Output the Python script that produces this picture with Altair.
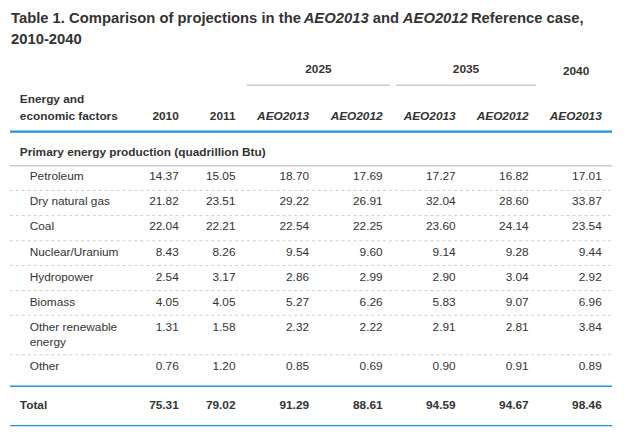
import altair as alt
import pandas as pd

# ---------------- data ----------------
categories = ["Petroleum", "Dry natural gas", "Coal", "Nuclear/Uranium",
              "Hydropower", "Biomass", "Other renewable\nenergy", "Other"]
v2010 = [14.37, 21.82, 22.04, 8.43, 2.54, 4.05, 1.31, 0.76]
v2011 = [15.05, 23.51, 22.21, 8.26, 3.17, 4.05, 1.58, 1.20]
aeo2013_2025 = [18.70, 29.22, 22.54, 9.54, 2.86, 5.27, 2.32, 0.85]
aeo2012_2025 = [17.69, 26.91, 22.25, 9.60, 2.99, 6.26, 2.22, 0.69]
aeo2013_2035 = [17.27, 32.04, 23.60, 9.14, 2.90, 5.83, 2.91, 0.90]
aeo2012_2035 = [16.82, 28.60, 24.14, 9.28, 3.04, 9.07, 2.81, 0.91]
aeo2013_2040 = [17.01, 33.87, 23.54, 9.44, 2.92, 6.96, 3.84, 0.89]
totals = [75.31, 79.02, 91.29, 88.61, 94.59, 94.67, 98.46]
col_headers = ["2010", "2011", "AEO2013", "AEO2012", "AEO2013", "AEO2012", "AEO2013"]
group_headers = ["2025", "2035", "2040"]
stub_header = ["Energy and", "economic factors"]
section_title = "Primary energy production (quadrillion Btu)"
total_label = "Total"
title_line1 = [("Table 1. Comparison of projections in the", "normal"),
               ("AEO2013", "italic"), ("and", "normal"),
               ("AEO2012", "italic"), ("Reference case,", "normal")]
title_line2 = "2010-2040"

# ---------------- layout (pixels, chart coordinates) ----------------
W, H = 619, 428
FONT = "Liberation Sans"
TXT = "#333333"
BLUE = "#1b9ad6"
GREY = "#cccccc"
col_right = [173, 230.5, 305, 379.5, 453.5, 527.5, 601.5]
row_y = [167.5, 193, 218.5, 244, 269.5, 295, 320.5, 359.5]
line_gap = 15
total_y = 399.5
label_x_indent = 22
label_x = 12
head_y = [89, 106.5]
group_x = [314.5, 464, 575.5]
group_y = [59.5, 59, 61]
group_line = [(242, 387), (393, 535)]
group_line_y = 75.5
section_y = 143.5
title_x = [3, 299.5, 369.5, 400, 469]
title_y = [7.5, 29]
left_edge, right_edge = 2, 612
blue_lines = [122.5, 380.3, 420.3]
blue_widths = [2.2, 1.5, 1.5]
grey_line_y = 157
dash_lines = [182, 207.5, 233, 258, 283.5, 308.5, 348.5]

XS = alt.Scale(domain=[0, W], range=[0, W], nice=False, zero=False)
YS = alt.Scale(domain=[0, H], range=[0, H], nice=False, zero=False)


def X(f="x"):
    return alt.X(f"{f}:Q", scale=XS, axis=None)


def Y(f="y"):
    return alt.Y(f"{f}:Q", scale=YS, axis=None)


def text_layer(df, align="left", weight="normal", style="normal", size=12, color=TXT):
    return alt.Chart(df).mark_text(
        align=align, baseline="middle", font=FONT, fontSize=size,
        fontWeight=weight, fontStyle=style, color=color
    ).encode(x=X(), y=Y(), text="t:N")


# body numbers
series = [v2010, v2011, aeo2013_2025, aeo2012_2025, aeo2013_2035, aeo2012_2035, aeo2013_2040]
cells = []
for ci, vals in enumerate(series):
    for ri, v in enumerate(vals):
        cells.append({"x": col_right[ci], "y": row_y[ri], "t": f"{v:.2f}"})
cells_df = pd.DataFrame(cells)

# row labels (split multi-line names)
labels = []
for ri, name in enumerate(categories):
    for li, part in enumerate(name.split("\n")):
        labels.append({"x": label_x_indent, "y": row_y[ri] + li * line_gap, "t": part})
labels_df = pd.DataFrame(labels)

tot_df = pd.DataFrame([{"x": col_right[i], "y": total_y, "t": f"{v:.2f}"} for i, v in enumerate(totals)])
tot_label_df = pd.DataFrame([{"x": label_x, "y": total_y, "t": total_label}])

hdr_plain = pd.DataFrame([{"x": col_right[i], "y": head_y[1], "t": h}
                          for i, h in enumerate(col_headers) if not h.startswith("AEO")])
hdr_ital = pd.DataFrame([{"x": col_right[i], "y": head_y[1], "t": h}
                         for i, h in enumerate(col_headers) if h.startswith("AEO")])
stub_df = pd.DataFrame([{"x": label_x, "y": head_y[i], "t": s} for i, s in enumerate(stub_header)])
group_df = pd.DataFrame([{"x": group_x[i], "y": group_y[i], "t": g} for i, g in enumerate(group_headers)])
section_df = pd.DataFrame([{"x": label_x, "y": section_y, "t": section_title}])

t_plain = pd.DataFrame([{"x": title_x[i], "y": title_y[0], "t": s}
                        for i, (s, st) in enumerate(title_line1) if st == "normal"]
                       + [{"x": title_x[0], "y": title_y[1], "t": title_line2}])
t_ital = pd.DataFrame([{"x": title_x[i], "y": title_y[0], "t": s}
                       for i, (s, st) in enumerate(title_line1) if st == "italic"])


# rules
def hrule(df, color, width, dash=None):
    kw = dict(color=color, strokeWidth=width)
    if dash:
        kw["strokeDash"] = dash
    return alt.Chart(df).mark_rule(**kw).encode(x=X("x"), x2="x2:Q", y=Y("y"))


group_rules = pd.DataFrame([{"x": a, "x2": b, "y": group_line_y} for a, b in group_line])
grey_rule = pd.DataFrame([{"x": left_edge, "x2": right_edge, "y": grey_line_y}])
dash_rules = pd.DataFrame([{"x": left_edge, "x2": right_edge, "y": y} for y in dash_lines])

layers = [
    hrule(group_rules, GREY, 1.5),
    hrule(grey_rule, GREY, 1.5),
    hrule(dash_rules, GREY, 1, [3, 3]),
]
for y, w in zip(blue_lines, blue_widths):
    layers.append(hrule(pd.DataFrame([{"x": left_edge, "x2": right_edge, "y": y}]), BLUE, w))

layers += [
    text_layer(t_plain, weight="bold", size=15),
    text_layer(t_ital, weight="bold", style="italic", size=15),
    text_layer(group_df, align="center", weight="bold"),
    text_layer(stub_df, weight="bold"),
    text_layer(hdr_plain, align="right", weight="bold"),
    text_layer(hdr_ital, align="right", weight="bold", style="italic"),
    text_layer(section_df, weight="bold"),
    text_layer(labels_df),
    text_layer(cells_df, align="right"),
    text_layer(tot_label_df, weight="bold"),
    text_layer(tot_df, align="right", weight="bold"),
]

chart = alt.layer(*layers).properties(
    width=W, height=H, padding=0, autosize=alt.AutoSizeParams(type="none"),
    background="white"
).configure_view(stroke=None)

chart.save("out.html", embed_options={"renderer": "svg", "actions": False})
